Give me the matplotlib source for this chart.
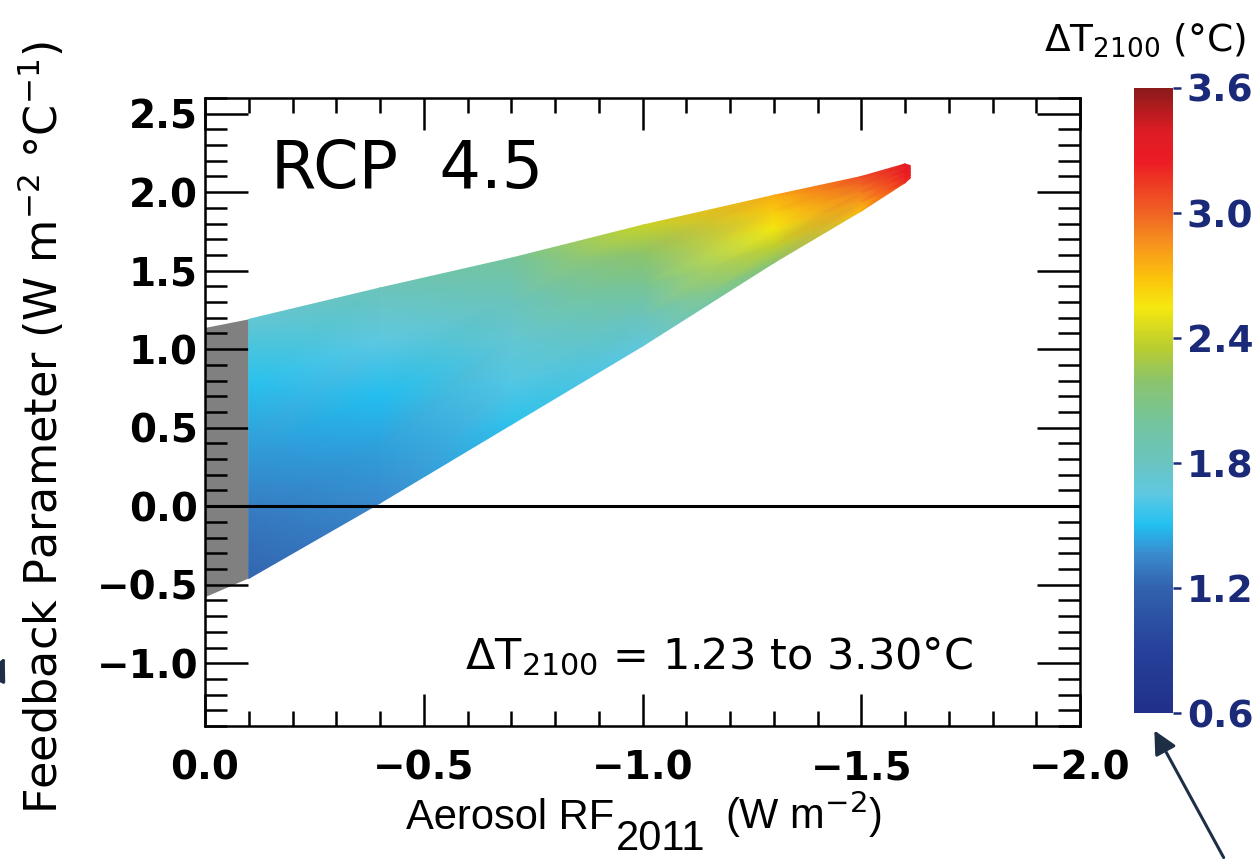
import matplotlib
matplotlib.use("Agg")
import matplotlib.pyplot as plt
import numpy as np
from matplotlib.colors import LinearSegmentedColormap
from matplotlib.ticker import MultipleLocator

# aerosol RF columns of the constrained wedge and the feedback parameter samples in each
col_x = [-0.1, -0.4, -0.7, -1.0, -1.3, -1.5, -1.6, -1.612]
col_y = [
    [-0.46, -0.05, 0.37, 0.78, 1.19],
    [0.02, 0.36, 0.70, 1.05, 1.39],
    [0.52, 0.79, 1.05, 1.32, 1.58],
    [1.02, 1.22, 1.41, 1.61, 1.79],
    [1.55, 1.66, 1.77, 1.88, 1.98],
    [1.88, 1.94, 2.00, 2.05, 2.10],
    [2.06, 2.09, 2.12, 2.15, 2.18],
    [2.09, 2.11, 2.13, 2.15, 2.17],
]
# warming in 2100 (degC) at those samples
col_dt = [
    [1.22, 1.30, 1.40, 1.52, 1.72],
    [1.35, 1.42, 1.50, 1.65, 1.84],
    [1.53, 1.62, 1.72, 1.84, 2.00],
    [1.68, 1.84, 2.02, 2.20, 2.40],
    [2.18, 2.38, 2.55, 2.66, 2.76],
    [2.72, 2.82, 2.92, 3.00, 3.08],
    [3.18, 3.22, 3.26, 3.29, 3.30],
    [3.22, 3.25, 3.28, 3.30, 3.30],
]

# excluded (positive aerosol RF) strip
grey_x = [0.0, -0.1, -0.1, 0.0]
grey_y = [1.135, 1.19, -0.46, -0.58]

x_ticks = [0.0, -0.5, -1.0, -1.5, -2.0]
x_labels = ["0.0", "\u22120.5", "\u22121.0", "\u22121.5", "\u22122.0"]
y_ticks = [-1.0, -0.5, 0.0, 0.5, 1.0, 1.5, 2.0, 2.5]
y_labels = ["\u22121.0", "\u22120.5", "0.0", "0.5", "1.0", "1.5", "2.0", "2.5"]
cb_ticks = [0.6, 1.2, 1.8, 2.4, 3.0, 3.6]

cmap_pos = [0.6, 0.9, 1.2, 1.35, 1.5, 1.65, 1.8, 2.0, 2.2, 2.35, 2.55, 2.7, 2.85, 3.0, 3.25, 3.4, 3.6]
cmap_col = ["#21308a", "#26419a", "#3262ae", "#3a88cc", "#22c0f0", "#5ec8e2", "#6ac4c0",
            "#74c49c", "#8cc46a", "#b8cc30", "#f5e80f", "#fcc00c", "#f7941d", "#f06424",
            "#ec1c24", "#dc1c24", "#8b1a1a"]
vmin, vmax = 0.6, 3.6
cmap = LinearSegmentedColormap.from_list(
    "dt", [((p - vmin) / (vmax - vmin), c) for p, c in zip(cmap_pos, cmap_col)])

plt.rcParams['font.family'] = ['DejaVu Sans']

W, H = 1259, 863
fig = plt.figure(figsize=(W / 100, H / 100), dpi=100)
ax = fig.add_axes([205 / W, 1 - 726 / H, 875 / W, 628 / H])

ax.fill(grey_x, grey_y, color="#808080", lw=0, zorder=1)

X = np.array([[x] * len(ys) for x, ys in zip(col_x, col_y)])
Y = np.array(col_y)
Z = np.array(col_dt)
mesh = ax.pcolormesh(X, Y, Z, cmap=cmap, vmin=vmin, vmax=vmax, shading="gouraud", zorder=2)

ax.axhline(0.0, color="black", lw=2.2, zorder=3)

ax.set_xlim(0.0, -2.0)
ax.set_ylim(-1.4, 2.6)
ax.set_xticks(x_ticks)
ax.set_xticklabels(x_labels)
ax.set_yticks(y_ticks)
ax.set_yticklabels(y_labels)
ax.xaxis.set_minor_locator(MultipleLocator(0.1))
ax.yaxis.set_minor_locator(MultipleLocator(0.1))
ax.tick_params(axis="x", which="major", direction="in", length=23, width=1.8, top=True,
               pad=17, labelsize=28)
ax.tick_params(axis="x", which="minor", direction="in", length=11, width=1.8, top=True)
ax.tick_params(axis="y", which="major", direction="in", length=31, width=1.8, right=True,
               pad=5, labelsize=28)
ax.tick_params(axis="y", which="minor", direction="in", length=16, width=1.8, right=True)
for lab in ax.get_xticklabels() + ax.get_yticklabels():
    lab.set_fontweight("bold")
for sp in ax.spines.values():
    sp.set_linewidth(1.8)

ax.set_ylabel(r"Feedback Parameter (W m$^{-2}$ °C$^{-1}$)", fontsize=32)
ax.yaxis.set_label_coords(-0.158, 0.476)

ax.text(0.075, 0.885, "RCP  4.5", transform=ax.transAxes, fontsize=47, va="center", ha="left")
ax.text(0.297, 0.11, r"$\Delta$T$_{2100}$ = 1.23 to 3.30°C", transform=ax.transAxes,
        fontsize=31, va="center", ha="left")

# x label pieces: big dropped subscript as in the original
lab_font = dict(fontsize=30, family="Liberation Sans")
t1 = fig.text(0, 1 - 829 / H, "Aerosol RF", va="baseline", ha="left", **lab_font)
t2 = fig.text(0, 1 - 850 / H, "2011", va="baseline", ha="left", **lab_font)
t3 = fig.text(0, 1 - 829 / H, r"(W m$^{-2}$)", va="baseline", ha="left", **lab_font)
fig.canvas.draw()
rend = fig.canvas.get_renderer()
w1 = t1.get_window_extent(rend).width
w2 = t2.get_window_extent(rend).width
w3 = t3.get_window_extent(rend).width
gap = 22
x0 = 644 - (w1 + w2 + gap + w3) / 2
t1.set_x(x0 / W)
t2.set_x((x0 + w1 + 2) / W)
t3.set_x((x0 + w1 + w2 + gap) / W)

cax = fig.add_axes([1134 / W, 1 - 713 / H, 39 / W, 625 / H])
cb = fig.colorbar(mesh, cax=cax, ticks=cb_ticks)
cb.outline.set_visible(False)
cax.tick_params(length=6, width=1.8, color="#1b2a78", pad=4, labelsize=27, labelcolor="#1b2a78")
cax.set_yticklabels([f"{t:.1f}" for t in cb_ticks], fontweight="bold")
fig.text(1145 / W, 1 - 40 / H, r"$\Delta$T$_{2100}$ (°C)", fontsize=27, ha="center", va="center")

# presentation arrows
arrow_col = "#1e2f45"
fig.patches.append(matplotlib.patches.FancyArrowPatch(
    (1225 / W, 1 - 860 / H), (1153 / W, 1 - 728 / H), transform=fig.transFigure,
    arrowstyle="-|>,head_length=14,head_width=7", color=arrow_col, lw=2.2))
fig.patches.append(matplotlib.patches.FancyArrowPatch(
    (-30 / W, 1 - 730 / H), (6 / W, 1 - 655 / H), transform=fig.transFigure,
    arrowstyle="-|>,head_length=14,head_width=7", color=arrow_col, lw=2.2))

fig.savefig("out.png", dpi=100)
